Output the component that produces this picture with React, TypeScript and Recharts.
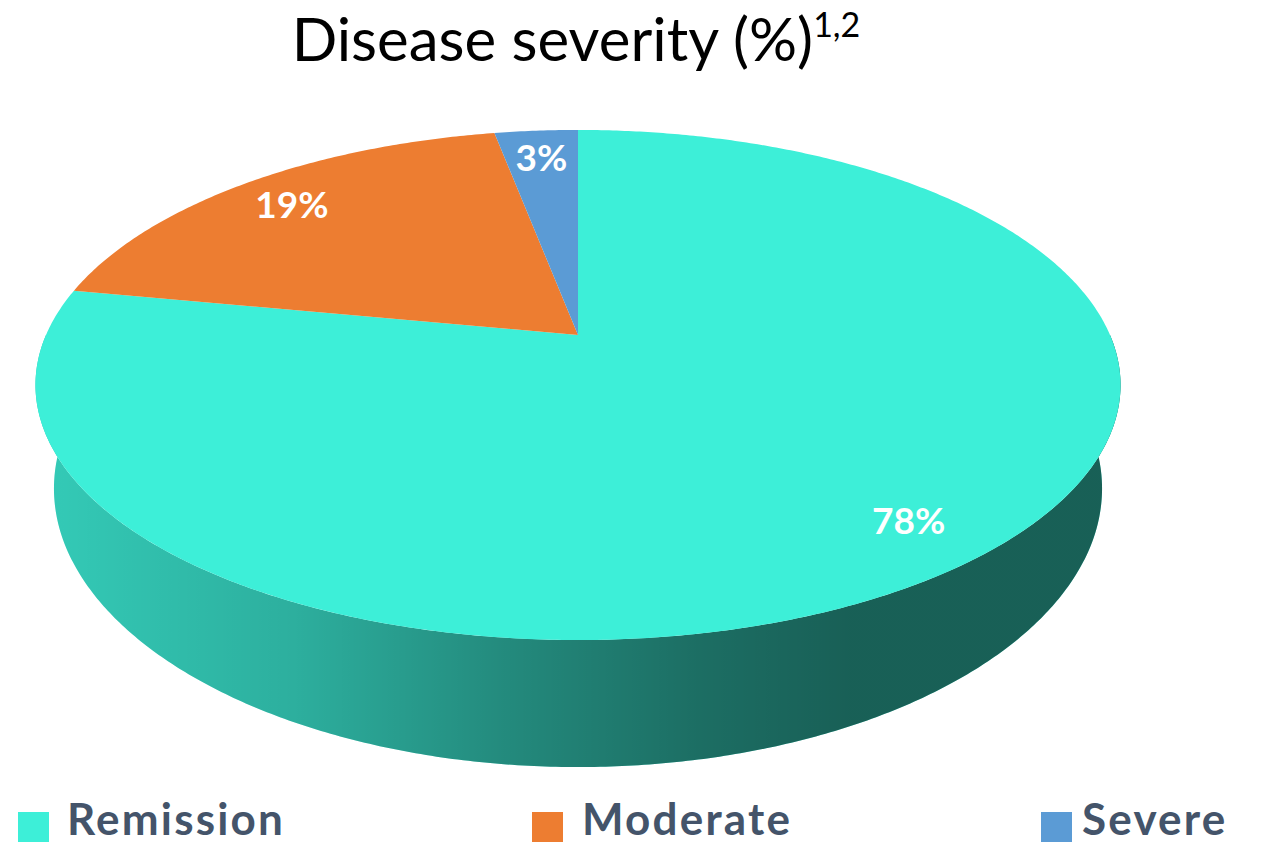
import React from 'react'
import { PieChart, Pie, Cell, Legend } from 'recharts'

// Disease severity split
const CATEGORIES = ['Remission', 'Moderate', 'Severe']
const SHARES = [78, 19, 3]
const COLORS = ['#3DEFD8', '#ED7D31', '#5B9BD5']

const data = CATEGORIES.map((name, i) => ({ name, value: SHARES[i] }))

const W = 1261
const H = 843

// fake-3D projection of the pie disc (ratios of the outer radius)
const FLAT = 0.461      // vertical squash of the top face
const PERSP = 0.196     // front of the disc looks bigger than the back
const THICK = 0.192     // height of the rim
const VANISH = 5.95     // vertical vanishing point below the centre

const LEGEND_BOX = [18, 532, 1041]
const LEGEND_TEXT = [67, 582, 1082]

function project(cx: number, cy: number, R: number, deg: number, f = 1) {
  const t = (deg * Math.PI) / 180
  const u = f * Math.cos(t)
  const w = -f * Math.sin(t)
  const d = 1 - PERSP * w
  return { x: cx + (R * u) / d, y: cy + (R * FLAT * w) / d, d }
}

function drop(cx: number, cy: number, R: number, p: { x: number; y: number; d: number }) {
  const dy = (R * THICK) / p.d
  const yv = cy + R * VANISH
  return { x: p.x - ((p.x - cx) * dy) / (yv - p.y), y: p.y + dy }
}

function angles(a0: number, a1: number) {
  const n = Math.max(2, Math.ceil(Math.abs(a1 - a0) / 0.5))
  const out: number[] = []
  for (let i = 0; i <= n; i++) out.push(a0 + ((a1 - a0) * i) / n)
  return out
}

function Slice3D(props: any) {
  const { cx, cy, outerRadius: R, startAngle, endAngle, fill } = props
  const idx = props.index ?? CATEGORIES.indexOf(props.name ?? props.payload?.name)
  const lo = Math.min(startAngle, endAngle)
  const hi = Math.max(startAngle, endAngle)

  // visible rim = front half of the disc
  const sides: string[] = []
  for (let n = -2; n <= 2; n++) {
    const s = Math.max(lo, -180 + 360 * n)
    const e = Math.min(hi, 360 * n)
    if (e <= s) continue
    const top = angles(s, e).map(a => project(cx, cy, R, a))
    const bot = top.map(p => drop(cx, cy, R, p)).reverse()
    const pts = [...top, ...bot]
    sides.push('M' + pts.map(p => `${p.x.toFixed(2)},${p.y.toFixed(2)}`).join('L') + 'Z')
  }

  const face = angles(startAngle, endAngle).map(a => project(cx, cy, R, a))
  const facePath =
    `M${cx},${cy}L` + face.map(p => `${p.x.toFixed(2)},${p.y.toFixed(2)}`).join('L') + 'Z'

  const half = R / Math.sqrt(1 - PERSP * PERSP)
  const gid = `rim-shade-${idx}`

  return (
    <g>
      <defs>
        <linearGradient id={gid} gradientUnits="userSpaceOnUse" x1={cx - half} y1={0} x2={cx + half} y2={0}>
          <stop offset="0" stopColor="#000" stopOpacity={0.15} />
          <stop offset="0.24" stopColor="#000" stopOpacity={0.27} />
          <stop offset="0.43" stopColor="#000" stopOpacity={0.42} />
          <stop offset="0.61" stopColor="#000" stopOpacity={0.54} />
          <stop offset="0.75" stopColor="#000" stopOpacity={0.6} />
          <stop offset="1" stopColor="#000" stopOpacity={0.6} />
        </linearGradient>
      </defs>
      {sides.map((d, i) => (
        <g key={i}>
          <path d={d} fill={fill} />
          <path d={d} fill={`url(#${gid})`} />
        </g>
      ))}
      <path d={facePath} fill={fill} />
    </g>
  )
}

function renderLabel(p: any) {
  const { cx, cy, outerRadius, midAngle, value } = p
  const pos = project(cx, cy, outerRadius, midAngle, 0.85)
  return (
    <text
      x={pos.x}
      y={pos.y}
      fill="#ffffff"
      textAnchor="middle"
      dominantBaseline="central"
      style={{ fontFamily: 'Lato, sans-serif', fontWeight: 700, fontSize: 37 }}
    >
      {`${value}%`}
    </text>
  )
}

function SeverityLegend() {
  return (
    <div style={{ position: 'relative', width: W, height: 48 }}>
      {CATEGORIES.map((c, i) => (
        <React.Fragment key={c}>
          <div
            style={{
              position: 'absolute', left: LEGEND_BOX[i], top: 18,
              width: 31, height: 30, background: COLORS[i],
            }}
          />
          <span
            style={{
              position: 'absolute', left: LEGEND_TEXT[i], top: 2,
              fontFamily: 'Lato, sans-serif', fontWeight: 700, fontSize: 44,
              letterSpacing: 2.2, lineHeight: 1, color: '#44546A', whiteSpace: 'nowrap',
            }}
          >
            {c}
          </span>
        </React.Fragment>
      ))}
    </div>
  )
}

export default function App() {
  return (
    <div style={{ position: 'absolute', left: 0, top: 0, width: W, height: H, background: '#fff', overflow: 'hidden' }}>
      <div
        style={{
          position: 'absolute', left: 0, top: 2, width: 1152, textAlign: 'center',
          fontFamily: 'Lato, sans-serif', fontSize: 60, lineHeight: 1.2, color: '#000',
          whiteSpace: 'nowrap', zIndex: 2,
        }}
      >
        Disease severity (%)
        <span style={{ fontSize: 34, lineHeight: 1.2, verticalAlign: 24 }}>1,2</span>
      </div>
      <PieChart width={W} height={H} margin={{ top: 0, right: 0, bottom: 0, left: 0 }}>
        <Pie
          data={data}
          dataKey="value"
          nameKey="name"
          cx={578}
          cy={335}
          outerRadius={532}
          startAngle={90}
          endAngle={-270}
          stroke="none"
          labelLine={false}
          label={renderLabel}
          shape={Slice3D}
          isAnimationActive={false}
        >
          {data.map((d, i) => (
            <Cell key={d.name} fill={COLORS[i]} />
          ))}
        </Pie>
        <Legend
          content={() => <SeverityLegend />}
          wrapperStyle={{ position: 'absolute', left: 0, top: 794, width: W, height: 48 }}
        />
      </PieChart>
    </div>
  )
}
